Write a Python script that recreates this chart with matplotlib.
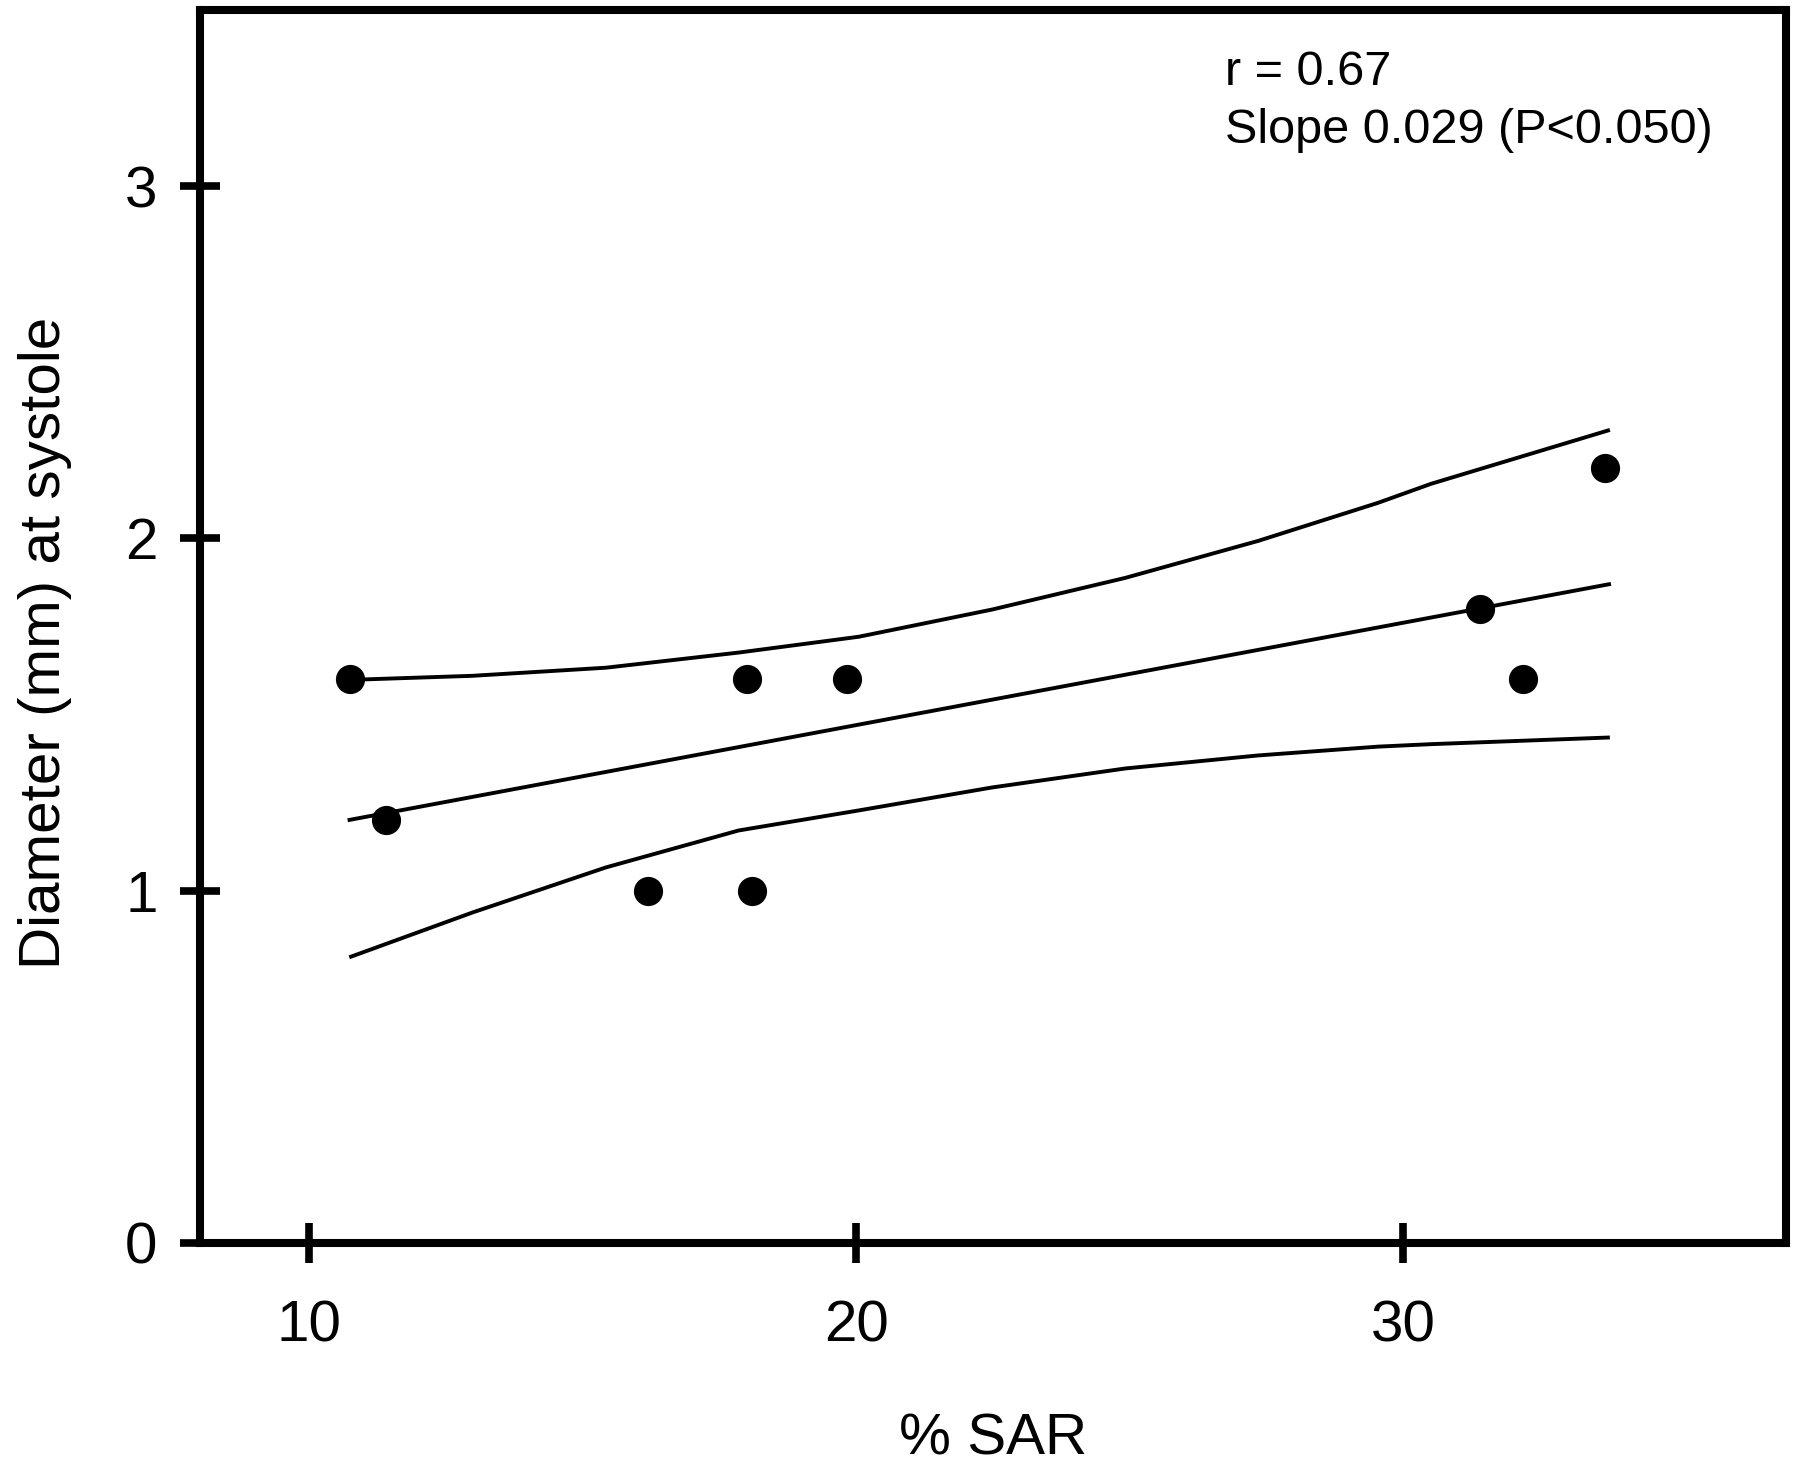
import numpy as np
import matplotlib.pyplot as plt

plt.rcParams['font.family'] = ['Liberation Sans', 'DejaVu Sans']

# measured points (% SAR, diameter)
sar = [10.75, 11.4, 16.2, 18.0, 18.1, 19.84, 31.4, 32.2, 33.7]
diameter = [1.6, 1.2, 1.0, 1.6, 1.0, 1.6, 1.8, 1.6, 2.2]

# regression line and confidence band
fit_x = [10.7, 33.8]
fit_y = [1.20, 1.871]
upper_x = [10.7, 11.04, 12.98, 15.42, 17.85, 20.05, 22.48, 24.92, 27.35, 29.54, 30.51, 33.78]
upper_y = [1.600, 1.600, 1.610, 1.633, 1.676, 1.721, 1.798, 1.888, 1.993, 2.101, 2.155, 2.308]
lower_x = [10.73, 12.98, 15.42, 17.85, 20.05, 22.48, 24.92, 27.35, 29.54, 30.51, 33.78]
lower_y = [0.811, 0.938, 1.066, 1.171, 1.228, 1.293, 1.347, 1.384, 1.409, 1.416, 1.435]

x_ticks = [10, 20, 30]
y_ticks = [0, 1, 2, 3]

fig = plt.figure(figsize=(18, 14.71), dpi=100)
ax = fig.add_axes([0.1111, 0.155, 0.8811, 0.8382])

line_kw = dict(color='black', lw=2.8, solid_joinstyle='round', solid_capstyle='butt')
ax.plot(fit_x, fit_y, **line_kw)
ax.plot(upper_x, upper_y, **line_kw)
ax.plot(lower_x, lower_y, **line_kw)
ax.scatter(sar, diameter, s=400, color='black', zorder=3)

ax.set_xlim(8, 37)
ax.set_ylim(0, 3.5)
ax.set_xticks(x_ticks)
ax.set_yticks(y_ticks)

for side in ax.spines.values():
    side.set_linewidth(5.8)
ax.tick_params(direction='inout', length=29, width=5.5, labelsize=42)
ax.tick_params(axis='x', pad=26)
ax.tick_params(axis='y', pad=16)

ax.set_xlabel('% SAR', fontsize=42, labelpad=43)
ax.set_ylabel('Diameter (mm) at systole', fontsize=42)
ax.yaxis.set_label_coords(-0.081, 0.487)

ax.text(26.75, 3.323, 'r = 0.67', fontsize=35, va='center', ha='left')
ax.text(26.75, 3.158, 'Slope 0.029 (P<0.050)', fontsize=35, va='center', ha='left')

fig.savefig('out.png', dpi=100)
plt.close(fig)
